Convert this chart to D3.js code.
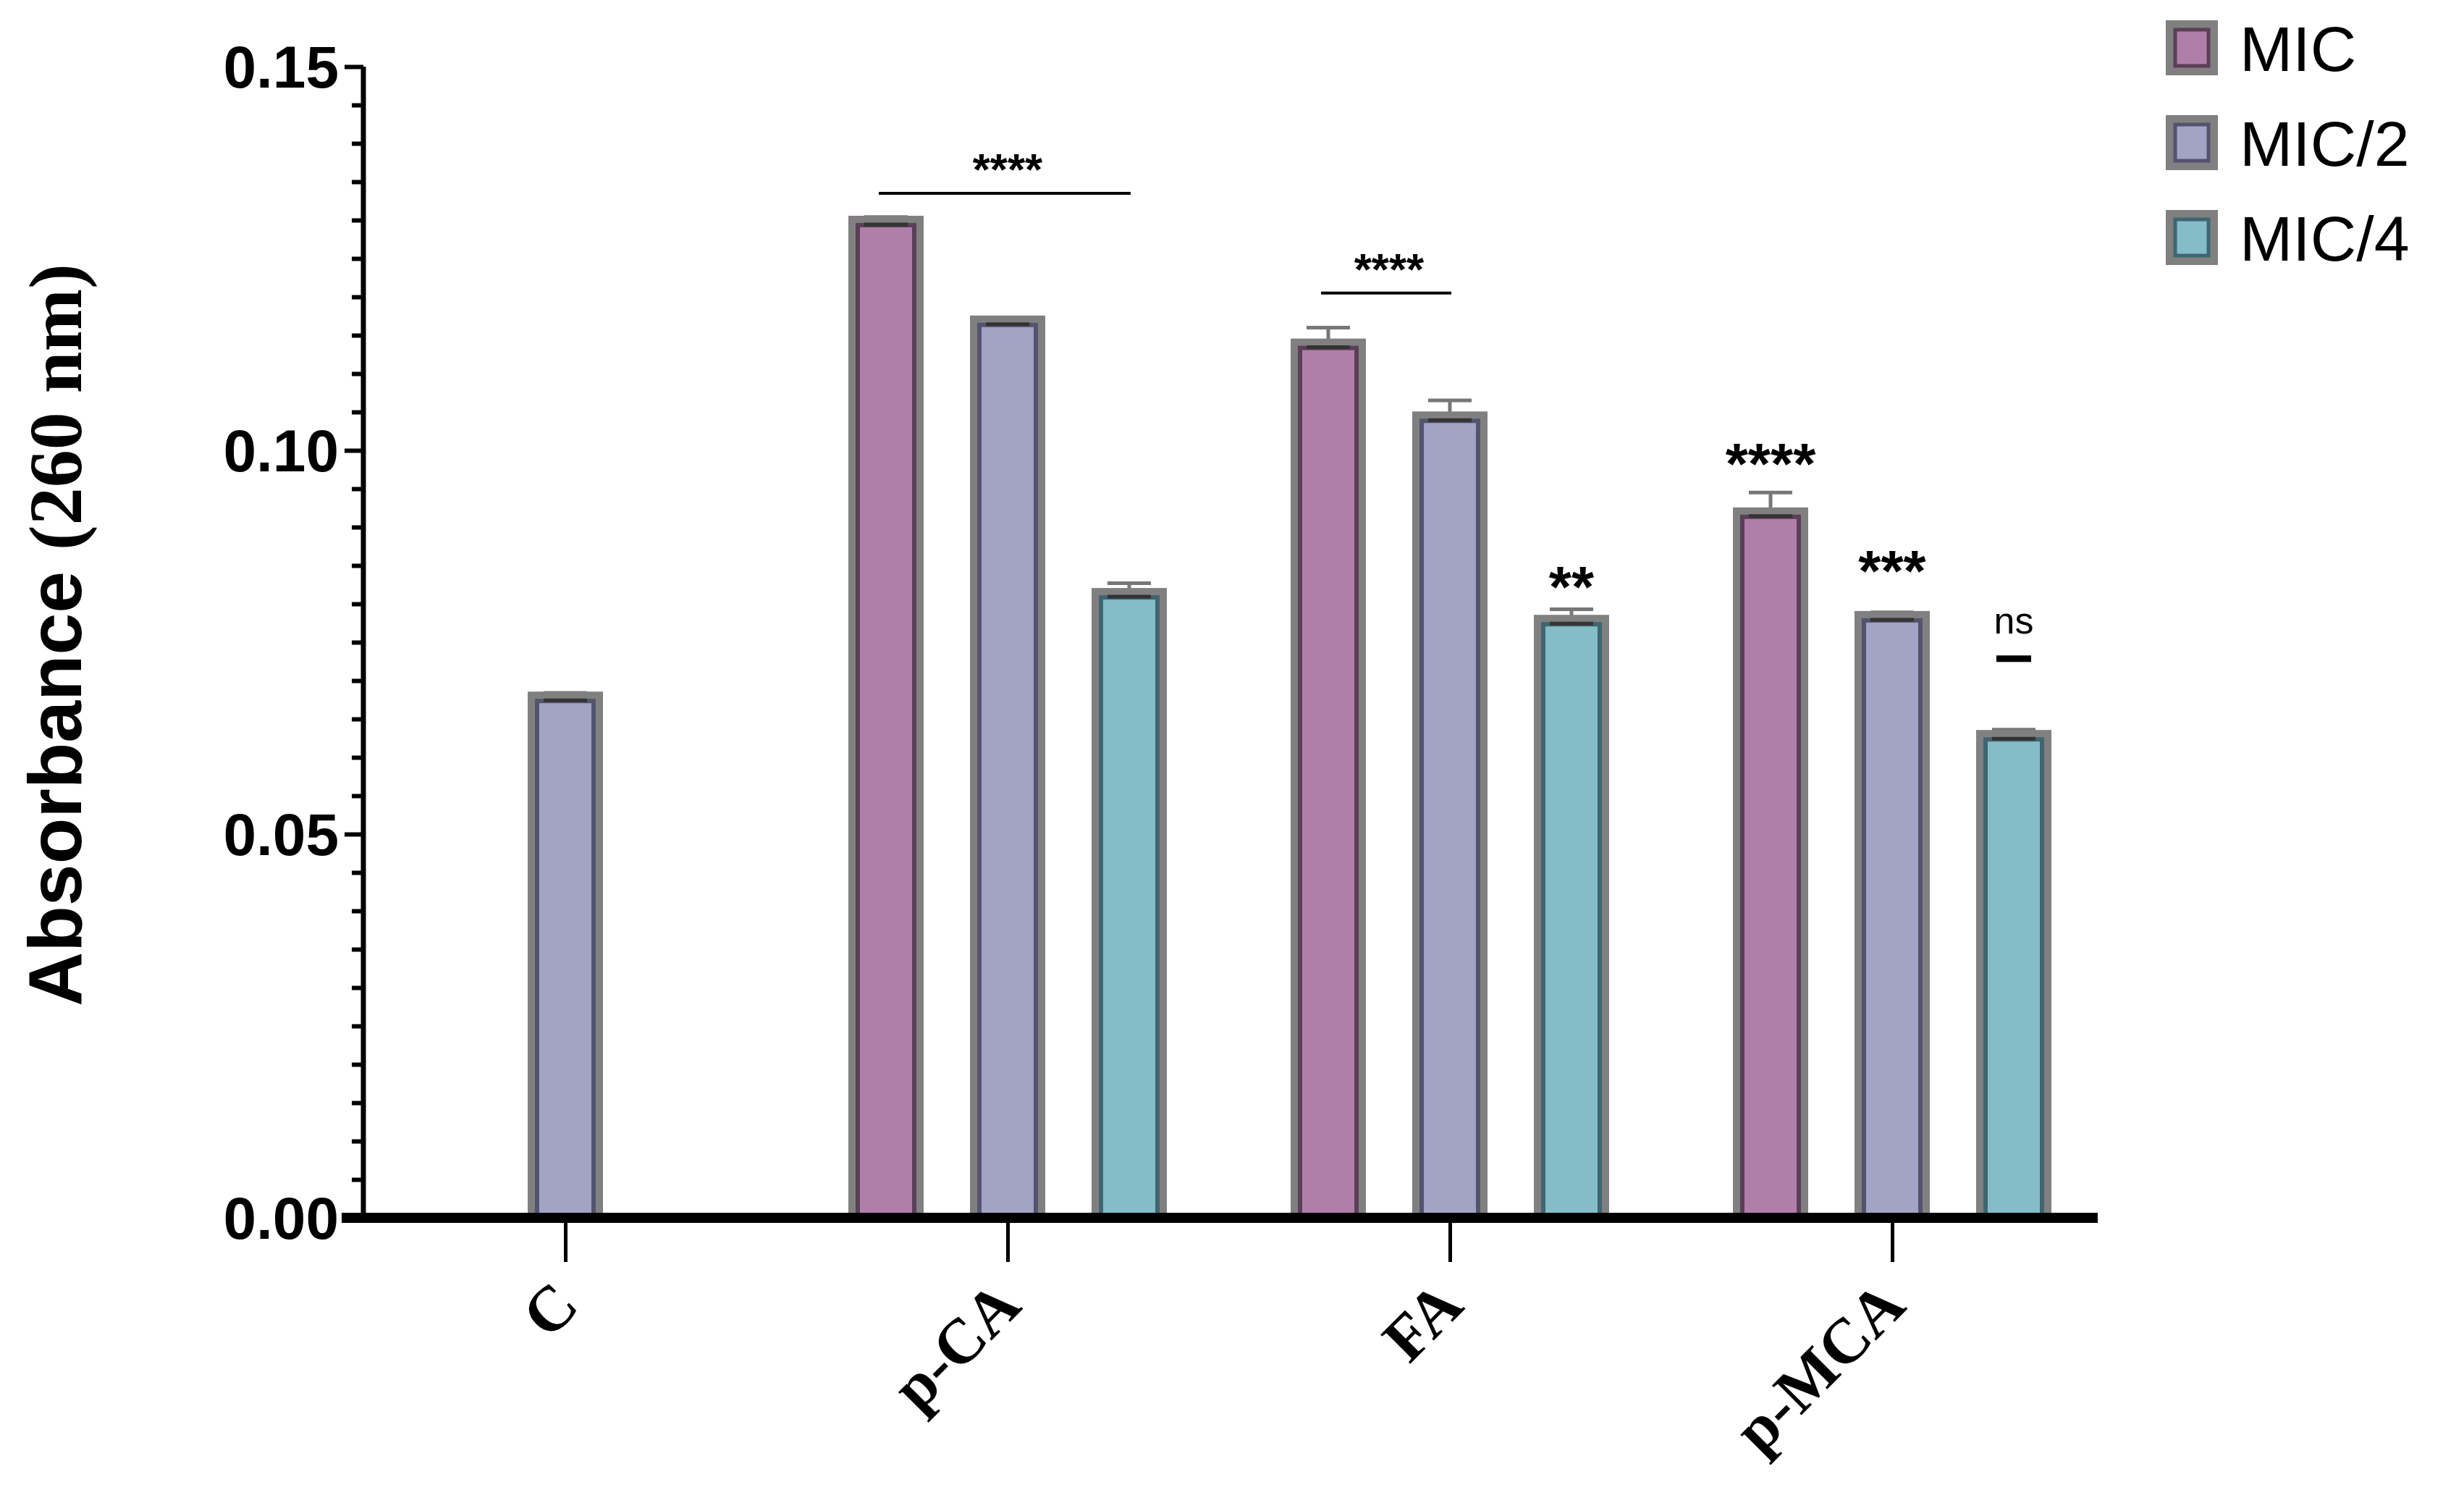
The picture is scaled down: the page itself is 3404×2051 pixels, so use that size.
<!DOCTYPE html>
<html>
<head>
<meta charset="utf-8">
<script src="https://cdn.jsdelivr.net/npm/d3@7"></script>
<style>
  body { margin: 0; background: #fff; }
  text { fill: #000; }
</style>
</head>
<body>
<div id="chart"></div>
<script>
'use strict';

// data
const groups = ['C', 'p-CA', 'FA', 'p-MCA'];
const series = ['MIC', 'MIC/2', 'MIC/4'];
const fills = ['#b07fa9', '#a3a3c6', '#84bcc8'];
const inners = ['#5a3f57', '#54536e', '#3f6570'];
const means = [
  [null, 0.068, null],
  [0.130, 0.117, 0.0815],
  [0.114, 0.1045, 0.078],
  [0.092, 0.0785, 0.063]
];
const errors = [
  [0, 0.0004, 0],
  [0.0004, 0.0003, 0.0012],
  [0.002, 0.002, 0.0013],
  [0.0025, 0.0004, 0.0006]
];
const yTicks = [0, 0.05, 0.10, 0.15];
// star annotations: [group, from series, to series (bracket) or null, label, value]
const marks = [
  [1, 0, 2, '****', 0.1335],
  [2, 0, 1, '****', 0.1205],
  [2, 2, null, '**', 0.0825],
  [3, 0, null, '****', 0.0985],
  [3, 1, null, '***', 0.0845],
  [3, 2, null, 'ns', 0.0705]
];

const W = 3404, H = 2051;
const margin = { left: 502, top: 92, right: 506, bottom: 369 };

const svg = d3.select('#chart').append('svg')
  .attr('width', W).attr('height', H);

const y = d3.scaleLinear().domain([0, 0.15]).range([H - margin.bottom, margin.top]);
const x = d3.scalePoint().domain(groups).range([781, 2614]);
const off = d3.scalePoint().domain(series).range([-168, 168]);
const barW = 92;

// bars
groups.forEach((g, gi) => {
  series.forEach((s, si) => {
    const v = means[gi][si];
    if (v === null) return;
    const cx = x(g) + off(s);
    const err = errors[gi][si];
    // error bar (upper only)
    svg.append('line')
      .attr('x1', cx).attr('x2', cx).attr('y1', y(v)).attr('y2', y(v + err))
      .attr('stroke', '#777').attr('stroke-width', 5);
    svg.append('line')
      .attr('x1', cx - 30).attr('x2', cx + 30).attr('y1', y(v + err)).attr('y2', y(v + err))
      .attr('stroke', '#777').attr('stroke-width', 5);
    svg.append('rect')
      .attr('x', cx - barW / 2).attr('y', y(v))
      .attr('width', barW).attr('height', y(0) - y(v))
      .attr('fill', fills[si]).attr('stroke', '#808080').attr('stroke-width', 12);
    svg.append('rect')
      .attr('x', cx - barW / 2 + 7).attr('y', y(v) + 7)
      .attr('width', barW - 14).attr('height', y(0) - y(v) - 7)
      .attr('fill', 'none').attr('stroke', inners[si]).attr('stroke-width', 6);
    svg.append('line')
      .attr('x1', cx - 30).attr('x2', cx + 30).attr('y1', y(v) + 6).attr('y2', y(v) + 6)
      .attr('stroke', '#333').attr('stroke-width', 5);
  });
});

// y axis with minor ticks
const yAxis = svg.append('g').attr('transform', `translate(${margin.left},0)`)
  .call(d3.axisLeft(y).tickValues(d3.range(0, 0.1501, 0.005)).tickSize(16).tickFormat(''));
yAxis.selectAll('line').attr('stroke-width', 6);
yAxis.selectAll('.tick').filter(d => yTicks.some(t => Math.abs(t - d) < 1e-6))
  .select('line').attr('x2', -26);
yAxis.select('.domain').attr('stroke-width', 7).attr('d', `M0,${y(0.15)}V${y(0)}`);
yAxis.selectAll('.tick').filter(d => yTicks.some(t => Math.abs(t - d) < 1e-6))
  .append('text').attr('x', -34).attr('dy', '0.35em')
  .attr('text-anchor', 'end')
  .style('font', 'bold 82px Liberation Sans, Arial, sans-serif').style('fill', '#000')
  .text(d => d3.format('.2f')(d));

// x axis
const xAxis = svg.append('g').attr('transform', `translate(0,${y(0)})`)
  .call(d3.axisBottom(x).tickSize(54).tickFormat(''));
xAxis.select('.domain').attr('stroke-width', 14).attr('d', `M${margin.left - 30},0H2898`);
xAxis.selectAll('line').attr('stroke-width', 5).attr('transform', 'translate(0,7)');
groups.forEach(g => {
  svg.append('text')
    .attr('transform', `translate(${x(g) + 22},${y(0) + 125}) rotate(-45)`)
    .attr('text-anchor', 'end')
    .style('font', 'bold 88px Liberation Serif, Times New Roman, serif')
    .text(g);
});

// y label
const yl = svg.append('text')
  .attr('transform', `translate(112,${(y(0) + y(0.15)) / 2 - 10}) rotate(-90)`)
  .attr('text-anchor', 'middle');
yl.append('tspan').style('font', 'bold 104px Liberation Sans, Arial, sans-serif').text('Absorbance ');
yl.append('tspan').style('font', 'bold 104px Liberation Serif, Times New Roman, serif').text('(260 nm)');

// significance marks
marks.forEach(([gi, a, b, label, v]) => {
  const g = groups[gi];
  const xa = x(g) + off(series[a]);
  if (b !== null) {
    const xb = x(g) + off(series[b]);
    svg.append('line').attr('x1', xa - 10).attr('x2', xb + 2)
      .attr('y1', y(v)).attr('y2', y(v)).attr('stroke', '#000').attr('stroke-width', 4);
    svg.append('text').attr('x', (xa + xb) / 2).attr('y', y(v) - 12)
      .attr('text-anchor', 'middle')
      .style('font', 'bold 62px Liberation Sans, Arial, sans-serif').text(label);
  } else if (label === 'ns') {
    svg.append('line').attr('x1', xa - 24).attr('x2', xa + 24)
      .attr('y1', y(v) - 25).attr('y2', y(v) - 25).attr('stroke', '#000').attr('stroke-width', 9);
    svg.append('text').attr('x', xa).attr('y', y(v) - 60)
      .attr('text-anchor', 'middle')
      .style('font', '52px Liberation Sans, Arial, sans-serif').text(label);
  } else {
    svg.append('text').attr('x', xa).attr('y', y(v) + 30)
      .attr('text-anchor', 'middle')
      .style('font', 'bold 80px Liberation Sans, Arial, sans-serif').text(label);
  }
});

// legend
series.forEach((s, i) => {
  const ly = 34 + i * 131;
  const lg = svg.append('g').attr('transform', `translate(2998,${ly})`);
  lg.append('rect').attr('width', 60).attr('height', 64)
    .attr('fill', fills[i]).attr('stroke', '#808080').attr('stroke-width', 12);
  lg.append('rect').attr('x', 7).attr('y', 7).attr('width', 46).attr('height', 50)
    .attr('fill', 'none').attr('stroke', inners[i]).attr('stroke-width', 5);
  lg.append('text').attr('x', 96).attr('y', 32).attr('dy', '0.36em')
    .style('font', '88px Liberation Sans, Arial, sans-serif').text(s);
});
</script>
</body>
</html>
